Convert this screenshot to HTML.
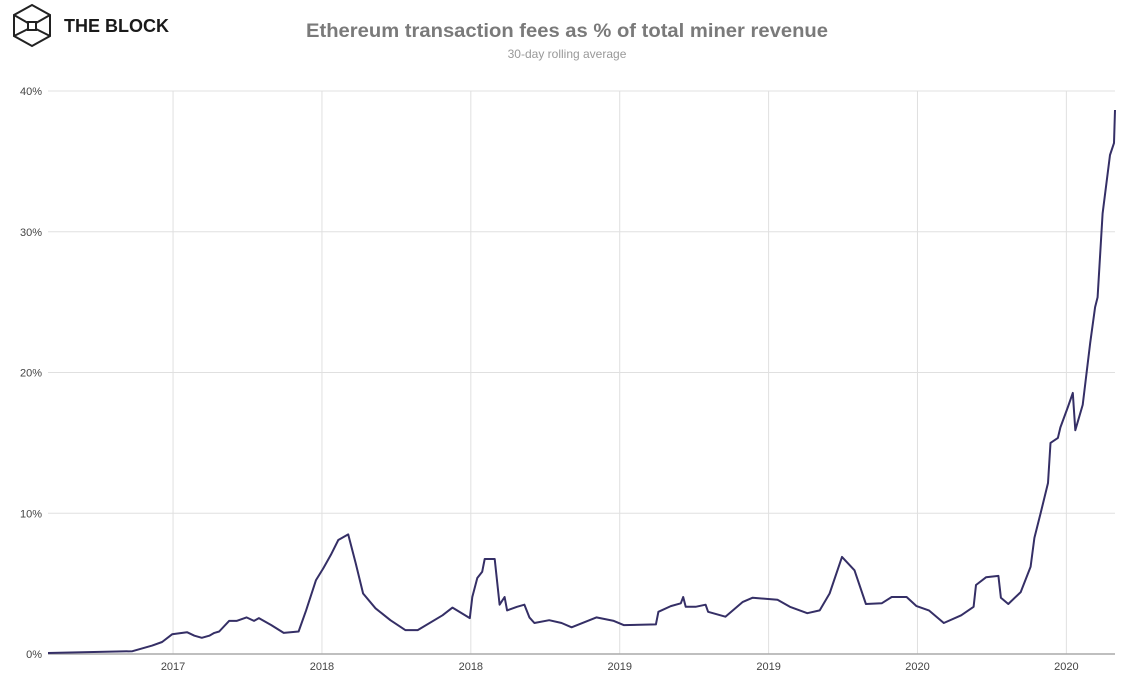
<!DOCTYPE html>
<html><head><meta charset="utf-8"><style>
body{margin:0;background:#fff;width:1129px;height:676px;overflow:hidden;font-family:"Liberation Sans",sans-serif}
</style></head><body>
<svg width="1129" height="676" xmlns="http://www.w3.org/2000/svg">
<g fill="none" stroke="#222" stroke-width="2">
<polygon points="32,5 50,15 50,36 32,46 14,36 14,15"/>
<line x1="14" y1="15" x2="28" y2="23"/><line x1="50" y1="15" x2="36" y2="23"/>
<line x1="14" y1="36" x2="28" y2="29"/><line x1="50" y1="36" x2="36" y2="29"/>
<rect x="28" y="22" width="8" height="8"/>
</g>
<text x="64" y="32" font-size="18" font-weight="bold" fill="#1a1a1a">THE BLOCK</text>
<text x="567" y="37" text-anchor="middle" font-size="19" font-weight="bold" fill="#7a7a7a" textLength="522" lengthAdjust="spacingAndGlyphs">Ethereum transaction fees as % of total miner revenue</text>
<text x="567" y="58" text-anchor="middle" font-size="12" fill="#999">30-day rolling average</text>
<g id="grid"></g><g id="axes"></g><g id="series"></g>
</svg>
<script>
const months=[0,3.4,4.2,4.6,5.0,5.6,5.9,6.2,6.5,6.7,6.9,7.3,7.6,8.0,8.3,8.5,9.0,9.5,10.1,10.4,10.8,11.1,11.4,11.7,12.1,12.4,12.7,13.2,13.8,14.4,14.9,15.9,16.3,17.0,17.1,17.3,17.5,17.6,18.0,18.2,18.4,18.5,18.9,19.2,19.4,19.6,20.2,20.7,21.1,22.1,22.8,23.2,24.5,24.6,25.1,25.5,25.6,25.7,26.1,26.5,26.6,27.3,28.0,28.4,29.4,29.9,30.6,31.1,31.5,32.0,32.5,32.96,33.6,34.0,34.6,35.0,35.5,36.1,36.8,37.3,37.4,37.8,38.3,38.4,38.7,39.2,39.6,39.75,40.0,40.3,40.4,40.7,40.8,41.1,41.3,41.4,41.7,42.0,42.2,42.3,42.5,42.8,42.96,43.0];
const values=[0.07,0.2,0.6,0.85,1.4,1.55,1.3,1.15,1.3,1.5,1.6,2.35,2.35,2.6,2.35,2.55,2.05,1.5,1.6,3.1,5.25,6.1,7.05,8.1,8.5,6.45,4.3,3.25,2.4,1.7,1.7,2.75,3.3,2.55,4.05,5.4,5.85,6.75,6.75,3.5,4.05,3.1,3.35,3.5,2.6,2.2,2.4,2.2,1.9,2.6,2.35,2.05,2.1,3.0,3.4,3.6,4.05,3.35,3.35,3.5,3.0,2.65,3.7,4.0,3.85,3.35,2.9,3.1,4.3,6.9,5.95,3.55,3.6,4.05,4.05,3.4,3.1,2.2,2.75,3.35,4.9,5.45,5.55,4.0,3.55,4.4,6.2,8.25,10.0,12.15,15.0,15.35,16.1,17.55,18.55,15.9,17.7,22.1,24.65,25.35,31.3,35.45,36.3,38.65];
const yTicks=[0,10,20,30,40];
const yTickLabels=["0%","10%","20%","30%","40%"];
const xTicks=[5.04,11.04,17.04,23.04,29.04,35.04,41.04];
const xTickLabels=["2017","2018","2018","2019","2019","2020","2020"];
const X0=48,X1=1115,Y0=654,Y1=91,TMAX=43,VMAX=40;
const sx=t=>X0+t/TMAX*(X1-X0), sy=v=>Y0-v/VMAX*(Y0-Y1);
const NS="http://www.w3.org/2000/svg";
function mk(tag,attrs,parent){const e=document.createElementNS(NS,tag);for(const k in attrs)e.setAttribute(k,attrs[k]);parent.appendChild(e);return e;}
const grid=document.getElementById('grid'),axes=document.getElementById('axes'),series=document.getElementById('series');
yTicks.forEach((v,i)=>{
 if(v>0){const l=mk('line',{x1:X0,x2:X1,y1:sy(v),y2:sy(v),stroke:'#e0e0e0','stroke-width':1},grid);
 
 }
 const t=mk('text',{x:42,y:sy(v)+4,'text-anchor':'end','font-size':11,fill:'#444'},axes);t.textContent=yTickLabels[i];
 
 
});
xTicks.forEach((m,i)=>{
 const l=mk('line',{x1:sx(m),x2:sx(m),y1:Y1,y2:Y0,stroke:'#e0e0e0','stroke-width':1},grid);
 
 
 const t=mk('text',{x:sx(m),y:670,'text-anchor':'middle','font-size':11,fill:'#444'},axes);t.textContent=xTickLabels[i];
 
 
});
const ax=mk('line',{x1:X0,x2:X1,y1:Y0,y2:Y0,stroke:'#aaa','stroke-width':1.5},axes);


const p=mk('path',{d:months.map((m,i)=>(i?'L':'M')+sx(m).toFixed(1)+','+sy(values[i]).toFixed(1)).join(''),fill:'none',stroke:'#352f66','stroke-width':2,'stroke-linejoin':'round'},series);


</script>
</body></html>
